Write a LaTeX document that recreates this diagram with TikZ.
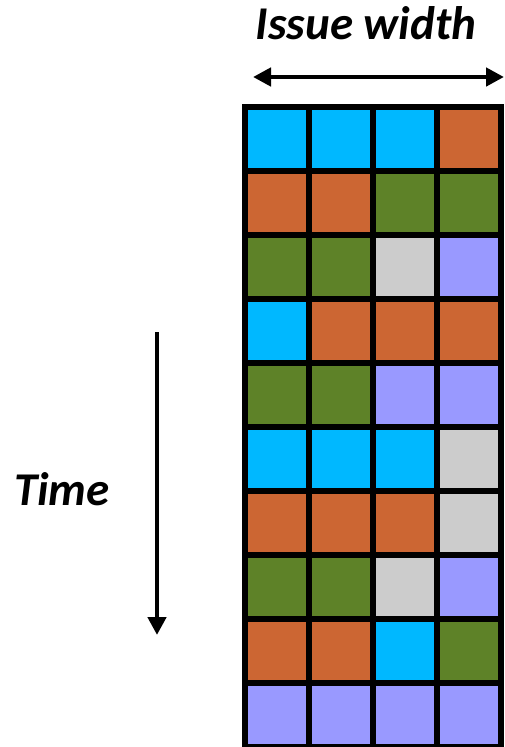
\documentclass[tikz,border=0pt]{standalone}
\usepackage{fontspec}
\setmainfont{Carlito}
\usetikzlibrary{arrows.meta}
\definecolor{cC}{RGB}{0,184,255}
\definecolor{cO}{RGB}{204,102,51}
\definecolor{cG}{RGB}{94,130,40}
\definecolor{cY}{RGB}{204,204,204}
\definecolor{cL}{RGB}{153,153,255}
\tikzset{
  cell/.style={draw=black, line width=5.5pt, minimum width=64pt, minimum height=64pt, inner sep=0pt, outer sep=0pt},
  lbl/.style={font=\fontsize{47}{51}\selectfont\bfseries\itshape, inner sep=0pt, anchor=base},
  bigarrow/.style={line width=4.5pt, -{Triangle[length=18pt,width=18pt]}},
  bigdarrow/.style={line width=4.5pt, {Triangle[length=18pt,width=18pt]}-{Triangle[length=18pt,width=18pt]}}
}
\begin{document}
\begin{tikzpicture}[x=1pt,y=-1pt]
\useasboundingbox (0,0) rectangle (504,747);
\foreach \r [count=\j from 0] in {{C,C,C,O},{O,O,G,G},{G,G,Y,L},{C,O,O,O},{G,G,L,L},{C,C,C,Y},{O,O,O,Y},{G,G,Y,L},{O,O,C,G},{L,L,L,L}}{
  \foreach \c [count=\i from 0] in \r {
    \node[cell, fill=c\c] (cell-\j-\i) at (277+64*\i, 139+64*\j) {};
  }
}
\node[lbl] (issue) at (366,39.5) {Issue width};
\node[lbl] (time) at (62,505) {Time};
\coordinate (hl) at (253,77);
\coordinate (hr) at (504,77);
\draw[bigdarrow] (hl) -- (hr);
\coordinate (vt) at (157,332);
\coordinate (vb) at (157,635);
\draw[bigarrow] (vt) -- (vb);
\end{tikzpicture}
\end{document}
